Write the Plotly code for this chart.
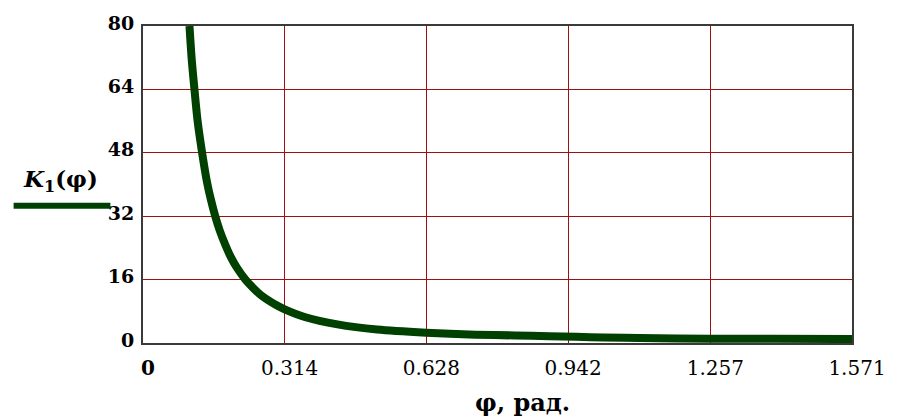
import plotly.graph_objects as go

# K1(phi) sampled along the curve
phi = [0.103, 0.108, 0.114, 0.121, 0.131, 0.142, 0.150, 0.160, 0.170, 0.183,
       0.195, 0.208, 0.227, 0.245, 0.262, 0.293, 0.314, 0.360, 0.431, 0.519,
       0.628, 0.737, 0.825, 0.900, 0.960, 1.020, 1.100, 1.257, 1.400, 1.571]
k1 = [80.0, 71.5, 64.0, 56.0, 48.0, 40.5, 36.4, 32.0, 28.4, 24.6,
      21.6, 19.0, 16.0, 13.8, 12.0, 9.7, 8.5, 6.5, 4.7, 3.4,
      2.6, 2.1, 1.9, 1.7, 1.55, 1.4, 1.25, 1.1, 1.05, 1.0]

x_ticks = [0, 0.314, 0.628, 0.942, 1.257, 1.571]
x_tick_text = ["<b>0</b>", "0.314", "0.628", "0.942", "1.257", "1.571"]
y_ticks = [0, 16, 32, 48, 64, 80]
y_tick_text = ["<b>%d</b>" % v for v in y_ticks]

CURVE = "#004000"
GRID = "#a01010"
FRAME = "#3a3a3a"

fig = go.Figure()
fig.add_trace(go.Scatter(
    x=phi, y=k1, mode="lines",
    line=dict(color=CURVE, width=8, shape="spline", smoothing=0.8),
    showlegend=False, hoverinfo="skip",
))

fig.update_layout(
    width=898, height=419,
    margin=dict(l=143, r=37, t=20, b=76),
    paper_bgcolor="white", plot_bgcolor="white",
    font=dict(family="DejaVu Serif", color="black"),
    xaxis=dict(
        range=[0, 1.571], tickvals=x_ticks, ticktext=x_tick_text,
        showgrid=True, gridcolor=GRID, gridwidth=1,
        showline=True, linecolor=FRAME, linewidth=2, mirror=True,
        zeroline=False, ticks="", ticklabelstandoff=6, ticklabelshift=5,
        tickfont=dict(family="DejaVu Serif", size=20, color="black"),
    ),
    yaxis=dict(
        range=[0, 80], tickvals=y_ticks, ticktext=y_tick_text,
        showgrid=True, gridcolor=GRID, gridwidth=1,
        showline=True, linecolor=FRAME, linewidth=2, mirror=True,
        zeroline=False, ticks="", ticklabelstandoff=3, ticklabelshift=-3,
        tickfont=dict(family="DejaVu Serif", size=19, color="black"),
    ),
)

# series label with its line sample
fig.add_annotation(
    x=-0.117, y=0.5135, xref="paper", yref="paper",
    xanchor="center", yanchor="middle", showarrow=False,
    text="<b><i>K</i><sub>1</sub>(φ)</b>",
    font=dict(family="DejaVu Serif", size=23, color="black"),
)
fig.add_shape(
    type="line", xref="paper", yref="paper",
    x0=-0.1825, x1=-0.046, y0=0.433, y1=0.433,
    line=dict(color=CURVE, width=6),
)

# x-axis caption
fig.add_annotation(
    x=0.535, y=-0.187, xref="paper", yref="paper",
    xanchor="center", yanchor="middle", showarrow=False,
    text="<b>φ, рад.</b>",
    font=dict(family="DejaVu Serif", size=24, color="black"),
)

fig.write_html("out.html")
